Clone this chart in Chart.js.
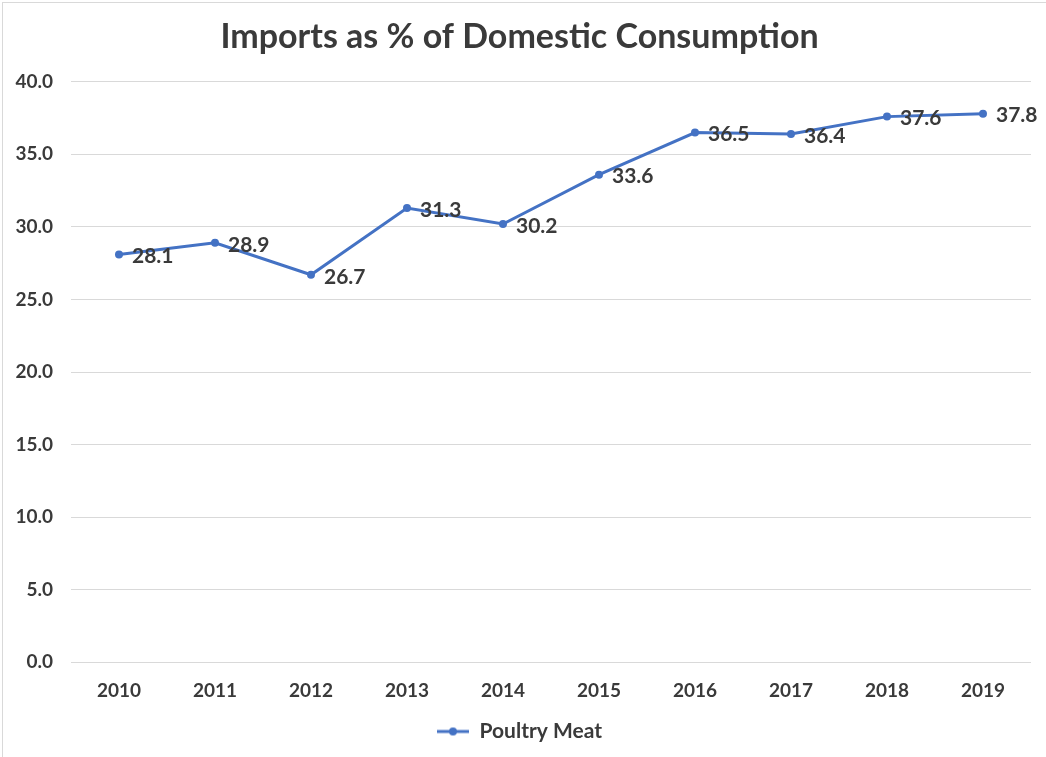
<!DOCTYPE html>
<html>
<head>
<meta charset="utf-8">
<script src="https://cdn.jsdelivr.net/npm/chart.js@4/dist/chart.umd.min.js"></script>
<style>
  html, body { margin: 0; padding: 0; background: #fff; }
  #wrap { width: 1046px; height: 757px; position: relative; }
</style>
</head>
<body>
<div id="wrap"><canvas id="c" width="1046" height="757"></canvas></div>
<script>
const years = ['2010', '2011', '2012', '2013', '2014', '2015', '2016', '2017', '2018', '2019'];
const poultryMeat = [28.1, 28.9, 26.7, 31.3, 30.2, 33.6, 36.5, 36.4, 37.6, 37.8];
const seriesName = 'Poultry Meat';
const chartTitle = 'Imports as % of Domestic Consumption';

const BLUE = '#4472C4';
const TEXT = '#3a3a3a';
const FONT = 'Lato, "Open Sans", sans-serif';

// Legend marker: short line with a dot in the middle
const marker = document.createElement('canvas');
marker.width = 32; marker.height = 10;
(function () {
  const g = marker.getContext('2d');
  g.strokeStyle = BLUE; g.lineWidth = 3;
  g.beginPath(); g.moveTo(0, 5); g.lineTo(32, 5); g.stroke();
  g.fillStyle = BLUE;
  g.beginPath(); g.arc(16, 5, 4, 0, Math.PI * 2); g.fill();
})();

// Value labels to the right of each point
const valueLabels = {
  id: 'valueLabels',
  afterDatasetsDraw(chart) {
    const ctx = chart.ctx;
    const meta = chart.getDatasetMeta(0);
    const data = chart.data.datasets[0].data;
    ctx.save();
    ctx.font = 'bold 21px ' + FONT;
    ctx.fillStyle = TEXT;
    ctx.textAlign = 'left';
    ctx.textBaseline = 'middle';
    meta.data.forEach((pt, i) => {
      ctx.fillText(data[i].toFixed(1), pt.x + 13, pt.y + 2);
    });
    ctx.restore();
  }
};

// Thin outline around the chart
const frame = {
  id: 'frame',
  beforeDraw(chart) {
    const ctx = chart.ctx;
    ctx.save();
    ctx.strokeStyle = '#d9d9d9';
    ctx.lineWidth = 1;
    ctx.strokeRect(2.5, 2.5, chart.width, chart.height);
    ctx.restore();
  }
};

new Chart(document.getElementById('c'), {
  type: 'line',
  data: {
    labels: years,
    datasets: [{
      label: seriesName,
      data: poultryMeat,
      borderColor: BLUE,
      backgroundColor: BLUE,
      borderWidth: 3,
      pointRadius: 4,
      pointHoverRadius: 4,
      pointBackgroundColor: BLUE,
      pointBorderWidth: 0,
      tension: 0,
      fill: false,
      pointStyle: 'circle'
    }]
  },
  plugins: [frame, valueLabels],
  options: {
    responsive: false,
    animation: false,
    devicePixelRatio: 1,
    layout: { padding: { left: 8, right: 15, top: 12, bottom: 5 } },
    plugins: {
      tooltip: { enabled: false },
      title: {
        display: true,
        text: chartTitle,
        color: TEXT,
        font: { family: FONT, size: 34, weight: 'bold' },
        padding: { top: 5, bottom: 24 }
      },
      legend: {
        position: 'bottom',
        labels: {
          usePointStyle: true,
          pointStyle: marker,
          pointStyleWidth: 32,
          color: TEXT,
          font: { family: FONT, size: 21, weight: 'bold' },
          padding: 2
        }
      }
    },
    scales: {
      x: {
        offset: true,
        grid: { display: false, drawTicks: false },
        border: { display: false },
        ticks: {
          color: TEXT,
          font: { family: FONT, size: 19, weight: 'bold' },
          padding: 17
        }
      },
      y: {
        min: 0,
        max: 40,
        afterFit(scale) { scale.width = 63; },
        grid: { color: '#d9d9d9', lineWidth: 1, drawTicks: false },
        border: { display: false },
        ticks: {
          stepSize: 5,
          color: TEXT,
          font: { family: FONT, size: 19, weight: 'bold' },
          padding: 18,
          callback: v => Number(v).toFixed(1)
        }
      }
    }
  }
});
</script>
</body>
</html>
